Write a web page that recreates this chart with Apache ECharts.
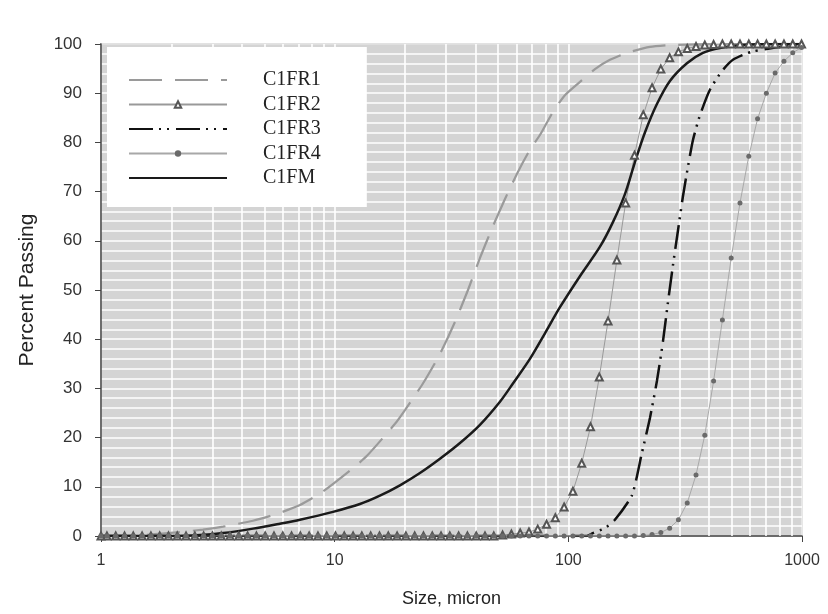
<!DOCTYPE html>
<html>
<head>
<meta charset="utf-8">
<script src="https://cdn.jsdelivr.net/npm/echarts@6/dist/echarts.min.js"></script>
<style>html,body{margin:0;padding:0;background:#fff;}#chart{width:828px;height:614px;}</style>
</head>
<body>
<div id="chart"></div>
<script>
// Shared measurement bins (micron) for the marker series
const binSizes = [1.0, 1.060, 1.156, 1.261, 1.374, 1.499, 1.635, 1.783, 1.944, 2.120, 2.311, 2.521, 2.749, 2.998, 3.270, 3.565, 3.888, 4.240, 4.624, 5.042, 5.499, 5.996, 6.539, 7.131, 7.776, 8.480, 9.248, 10.08, 10.99, 11.99, 13.07, 14.26, 15.55, 16.96, 18.50, 20.17, 22.00, 23.99, 26.16, 28.52, 31.10, 33.92, 36.98, 40.34, 43.98, 47.97, 52.31, 57.05, 62.21, 67.84, 73.98, 80.68, 87.98, 95.94, 104.6, 114.1, 124.4, 135.7, 147.9, 161.3, 175.9, 191.9, 209.3, 228.2, 248.8, 271.4, 295.9, 322.7, 351.9, 383.7, 418.4, 456.4, 497.7, 542.8, 591.9, 645.4, 703.8, 767.5, 837.0, 912.8, 995.3];

const c1fr2Values = [0,0,0,0,0,0,0,0,0,0, 0,0,0,0,0,0,0,0,0,0, 0,0,0,0,0,0,0,0,0,0, 0,0,0,0,0,0,0,0,0,0, 0,0,0,0,0,0, 0.2,0.4,0.6,0.8,1.4,2.4,3.7,5.9,9.1,14.8,22.2,32.3,43.7,56.1,67.7,77.4,85.6,91.1,94.9,97.2,98.4,99.1,99.5,99.8,99.9, 100,100,100,100,100,100,100,100,100,100];

const c1fr4Values = [0,0,0,0,0,0,0,0,0,0, 0,0,0,0,0,0,0,0,0,0, 0,0,0,0,0,0,0,0,0,0, 0,0,0,0,0,0,0,0,0,0, 0,0,0,0,0,0,0,0,0,0, 0,0,0,0,0,0,0,0,0,0, 0,0, 0.1,0.3,0.7,1.6,3.3,6.7,12.4,20.5,31.5,43.9,56.5,67.7,77.2,84.8,90.0,94.1,96.5,98.2,99.3];

const c1fr1Sizes = [1, 1.5, 2.18, 2.73, 3.33, 4.47, 5.66, 7.10, 8.82, 11.98, 13.75, 18.12, 19.99, 23.86, 28.22, 32.72, 37.20, 41.85, 47.11, 53.56, 60.85, 68.49, 75.58, 85.94, 96.7, 112.1, 130.0, 150.7, 178.1, 223.5, 280.3, 445.4, 1000];
const c1fr1Values = [0, 0.2, 0.8, 1.3, 1.9, 3.1, 4.5, 6.3, 8.9, 13.8, 16.3, 22.8, 25.6, 31.0, 37.0, 43.5, 50.0, 56.5, 62.5, 68.5, 74.0, 78.5, 81.5, 86.2, 89.6, 92.3, 94.9, 96.8, 98.2, 99.4, 99.8, 100, 100];

const c1fr3Sizes = [1, 120, 127.4, 143.4, 158.3, 187.2, 206.5, 223.5, 239.4, 254.0, 266.9, 280.3, 294.4, 309.3, 324.9, 341.5, 365.7, 403.6, 454.3, 506.3, 616.6, 1000];
const c1fr3Values = [0, 0, 0.6, 1.6, 3.3, 8.3, 16.9, 24.0, 31.5, 39.5, 47.5, 55.0, 62.0, 69.0, 75.0, 80.5, 85.5, 90.7, 94.5, 96.8, 98.5, 100];

const c1fmSizes = [1, 1.973, 2.652, 3.327, 4.472, 5.834, 7.104, 9.833, 12.83, 15.62, 19.03, 23.17, 28.22, 34.38, 41.85, 50.98, 57.94, 68.49, 79.43, 92.08, 112.1, 136.6, 155.2, 174.7, 192.8, 212.7, 239.4, 272.1, 321.8, 376.7, 445.4, 558.6, 804.5, 1000];
const c1fmValues = [0, 0, 0.2, 0.6, 1.5, 2.5, 3.3, 4.9, 6.5, 8.2, 10.3, 12.8, 15.7, 18.9, 22.6, 27.3, 31.0, 36.0, 41.2, 46.5, 52.8, 58.8, 63.8, 69.5, 76.0, 82.0, 87.8, 92.5, 96.1, 98.2, 99.2, 99.8, 100, 100];

const seriesNames = ['C1FR1', 'C1FR2', 'C1FR3', 'C1FR4', 'C1FM'];
const noMarkerSeries = ['C1FR1', 'C1FR3', 'C1FM'];
const minorGridSizes = [2,3,4,5,6,7,8,9,20,30,40,50,60,70,80,90,200,300,400,500,600,700,800,900];

function zip(xs, ys) { return xs.map((x, i) => [x, ys[i]]); }

const chart = echarts.init(document.getElementById('chart'), null, {renderer: 'canvas'});
const font = 'Liberation Sans, Arial, sans-serif';
const serif = 'Liberation Serif, Times New Roman, serif';

chart.setOption({
  animation: false,
  backgroundColor: '#ffffff',
  grid: {
    left: 101, right: 26, top: 44, bottom: 78,
    show: true, backgroundColor: '#d4d4d4', borderColor: '#666', borderWidth: 1.5
  },
  legend: {
    z: 10,
    data: seriesNames.map(n => noMarkerSeries.includes(n) ? { name: n, itemStyle: { opacity: 0 } } : { name: n }),
    orient: 'vertical',
    left: 107, top: 47,
    backgroundColor: '#ffffff',
    padding: [23, 46, 19, 21],
    itemWidth: 98, itemHeight: 8, itemGap: 4.5,
    formatter: name => '{s|}{t|' + name + '}',
    textStyle: {
      fontFamily: serif, fontSize: 20, color: '#222',
      rich: {
        s: { width: 31, fontSize: 20, fontFamily: serif },
        t: { fontFamily: serif, fontSize: 20, color: '#222' }
      }
    }
  },
  xAxis: {
    type: 'log', logBase: 10, min: 1, max: 1000,
    name: 'Size, micron', nameLocation: 'middle', nameGap: 54,
    nameTextStyle: { fontFamily: font, fontSize: 18, color: '#222' },
    axisLine: { show: true, lineStyle: { color: '#444', width: 1.5 } },
    axisTick: { show: true, length: 6, inside: false, lineStyle: { color: '#444' } },
    axisLabel: { fontFamily: font, fontSize: 16, color: '#333', margin: 17, formatter: v => String(v) },
    splitLine: { show: true, lineStyle: { color: '#ffffff', width: 1.6 } }
  },
  yAxis: {
    type: 'value', min: 0, max: 100, interval: 10,
    name: 'Percent Passing', nameLocation: 'middle', nameGap: 63,
    nameTextStyle: { fontFamily: font, fontSize: 21, color: '#222' },
    axisLine: { show: true, lineStyle: { color: '#444', width: 1.5 } },
    axisTick: { show: true, length: 6, inside: false, lineStyle: { color: '#444' } },
    axisLabel: { fontFamily: font, fontSize: 17, color: '#333', margin: 19 },
    splitLine: { show: true, lineStyle: { color: '#ffffff', width: 1.6 } },
    minorTick: { show: false, splitNumber: 5 },
    minorSplitLine: { show: true, lineStyle: { color: '#ffffff', width: 1.6 } }
  },
  series: [
    {
      name: 'gridlines', type: 'line', z: 1, silent: true,
      data: [[1, 0], [1000, 0]], showSymbol: false, symbol: 'none',
      lineStyle: { opacity: 0 },
      markLine: {
        z: 1,
        silent: true, symbol: ['none', 'none'], animation: false,
        label: { show: false },
        lineStyle: { color: '#ffffff', width: 1.6, type: 'solid' },
        data: minorGridSizes.map(v => ({ xAxis: v }))
      }
    },
    {
      name: 'C1FR1', type: 'line', data: zip(c1fr1Sizes, c1fr1Values),
      symbol: 'none', smooth: 0.2, color: '#9a9a9a',
      lineStyle: { color: '#9a9a9a', width: 2.2, type: [33, 13] }
    },
    {
      name: 'C1FR2', type: 'line', data: zip(binSizes, c1fr2Values),
      symbol: 'emptyTriangle', symbolSize: 7, color: '#555',
      itemStyle: { color: '#555', borderColor: '#555', borderWidth: 1 },
      lineStyle: { color: '#999', width: 1 }
    },
    {
      name: 'C1FR3', type: 'line', data: zip(c1fr3Sizes, c1fr3Values),
      symbol: 'none', smooth: 0.2, color: '#111',
      lineStyle: { color: '#111', width: 2.5, type: [24, 6, 2, 6, 2, 7] }
    },
    {
      name: 'C1FR4', type: 'line', data: zip(binSizes, c1fr4Values),
      symbol: 'circle', symbolSize: 5, color: '#6a6a6a',
      itemStyle: { color: '#6a6a6a' },
      lineStyle: { color: '#a8a8a8', width: 1 }
    },
    {
      name: 'C1FM', type: 'line', data: zip(c1fmSizes, c1fmValues),
      symbol: 'none', smooth: 0.3, color: '#1a1a1a',
      lineStyle: { color: '#1a1a1a', width: 2.5 }
    }
  ]
});
</script>
</body>
</html>
